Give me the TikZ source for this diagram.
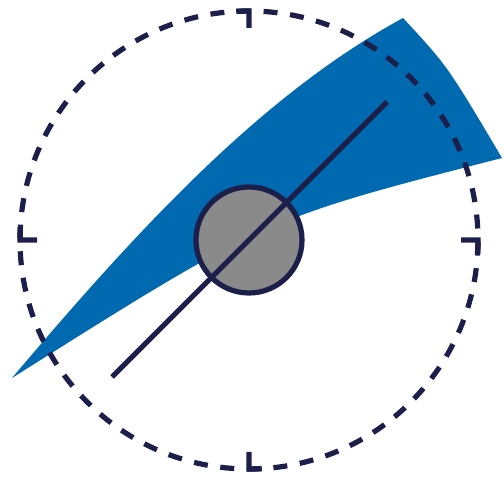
\documentclass[tikz,border=0pt]{standalone}
\usepackage{tikz}
\usetikzlibrary{calc}
\definecolor{navy}{RGB}{27,31,74}
\definecolor{beam}{RGB}{0,105,176}
\definecolor{hub}{RGB}{138,138,138}

\begin{document}
\begin{tikzpicture}[x=0.5pt, y=0.5pt,
  rim/.style={draw=navy, line width=2.6pt,
    dash pattern=on 7pt off 6.32pt, dash phase=7.57pt},
  tickmark/.style={draw=navy, line width=2.7pt, line join=miter},
  hubdisc/.style={draw=navy, fill=hub, line width=2.6pt},
  needle/.style={draw=navy, line width=2.5pt}]
\useasboundingbox (0,0) rectangle (504,477);
\coordinate (c) at (249,237);
\coordinate (tip) at (12,99);
\coordinate (far) at (403,459);
\coordinate (near) at (502,319);
\coordinate (tail) at (112,100);
\coordinate (head) at (387,375);

% beam
\fill[beam] (tip) .. controls (140,250.3) and (262.6,382.6) .. (far)
  .. controls (447.5,411) .. (near)
  .. controls (264,258) .. (tip) -- cycle;

% dashed rim and ticks
\draw[rim] (c) circle[radius=229];
\draw[tickmark] ($(c)+(93.2:229)$) arc[start angle=93.2, end angle=90, radius=229]
  -- ($(c)+(90:212)$);
\draw[tickmark] ($(c)+(176.8:229)$) arc[start angle=176.8, end angle=180, radius=229]
  -- ($(c)+(180:212)$);
\draw[tickmark] ($(c)+(0:212)$) -- ($(c)+(0:229)$)
  arc[start angle=0, end angle=-3.5, radius=229];
\draw[tickmark] ($(c)+(270:212)$) -- ($(c)+(270:229)$)
  arc[start angle=270, end angle=273.2, radius=229];

% hub and needle
\draw[hubdisc] (c) circle[radius=53];
\draw[needle] (tail) -- (head);
\end{tikzpicture}
\end{document}
